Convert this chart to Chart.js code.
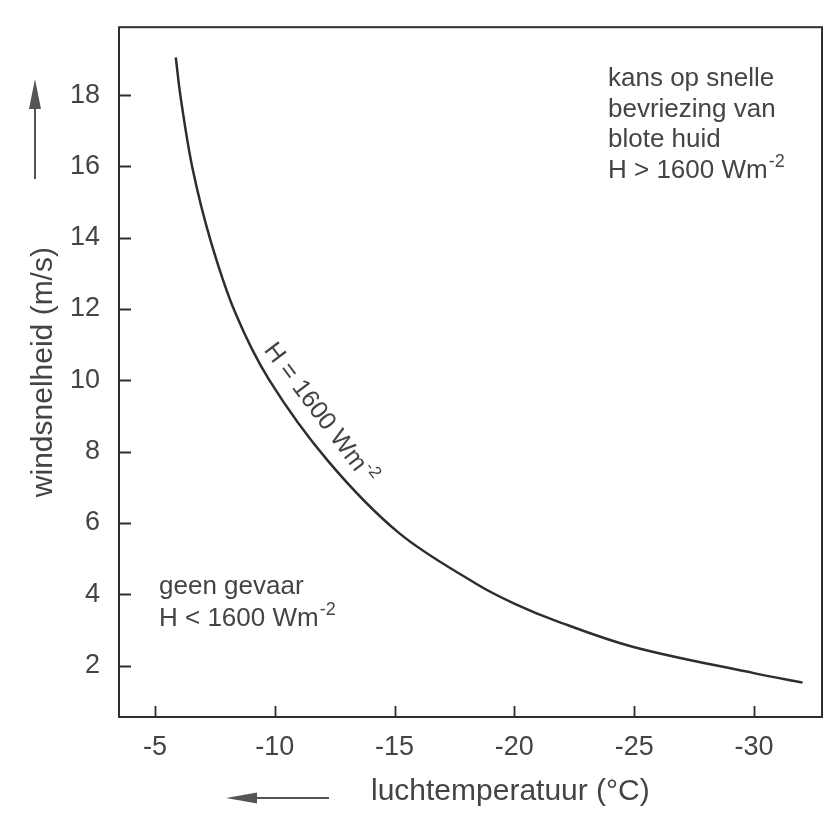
<!DOCTYPE html>
<html>
<head>
<meta charset="utf-8">
<script src="https://cdn.jsdelivr.net/npm/chart.js@4.4.1/dist/chart.umd.min.js"></script>
<style>
  html, body { margin: 0; padding: 0; background: #ffffff; }
  #wrap { width: 827px; height: 817px; position: relative; }
</style>
</head>
<body>
<div id="wrap"><canvas id="chart"></canvas></div>
<script>
// ---- data ----
const temperatures = [-5.87, -6.07, -6.57, -7.31, -8.35, -9.76, -12.22, -15.18, -18.44, -20.02, -21.71, -24.97, -30.04, -32.03];
const windSpeeds   = [19.06, 17.95, 15.94, 13.95, 11.90, 10.02, 7.74, 5.72, 4.28, 3.73, 3.26, 2.52, 1.78, 1.52];
const xTickValues = [-5, -10, -15, -20, -25, -30];
const yTickValues = [2, 4, 6, 8, 10, 12, 14, 16, 18];
const xTitle = 'luchtemperatuur (°C)';
const yTitle = 'windsnelheid (m/s)';
const dangerLines = ['kans op snelle', 'bevriezing van', 'blote huid'];
const dangerLast = ['H > 1600 Wm', '-2'];
const safeLine = 'geen gevaar';
const safeLast = ['H < 1600 Wm', '-2'];
const curveLabel = ['H = 1600 Wm', '-2'];
const curveLabelAt = { x: -11.95, y: 9.1 };

const FONT = '"Liberation Sans", Arial, Helvetica, sans-serif';
const TEXT = '#444444';
const INK = '#2e2e2e';

function supText(ctx, x, y, base, sup, size) {
  ctx.font = size + 'px ' + FONT;
  ctx.fillText(base, x, y);
  const w = ctx.measureText(base).width;
  ctx.font = Math.round(size * 0.68) + 'px ' + FONT;
  ctx.fillText(sup, x + w + 1, y - size * 0.42);
}
function supWidth(ctx, base, sup, size) {
  ctx.font = size + 'px ' + FONT;
  const w = ctx.measureText(base).width;
  ctx.font = Math.round(size * 0.68) + 'px ' + FONT;
  return w + 1 + ctx.measureText(sup).width;
}

const decor = {
  id: 'decor',
  afterDraw(chart) {
    const ctx = chart.ctx;
    const a = chart.chartArea;
    const xs = chart.scales.x, ys = chart.scales.y;
    ctx.save();
    // frame
    ctx.strokeStyle = INK;
    ctx.lineWidth = 2;
    ctx.strokeRect(a.left, a.top, a.right - a.left, a.bottom - a.top);
    // inward ticks
    ctx.lineWidth = 1.8;
    ctx.beginPath();
    ys.ticks.forEach(t => {
      const p = Math.round(ys.getPixelForValue(t.value)) + 0.5;
      ctx.moveTo(a.left, p); ctx.lineTo(a.left + 12, p);
    });
    xs.ticks.forEach(t => {
      const p = Math.round(xs.getPixelForValue(t.value)) + 0.5;
      ctx.moveTo(p, a.bottom); ctx.lineTo(p, a.bottom - 11);
    });
    ctx.stroke();

    // annotations
    ctx.fillStyle = TEXT;
    ctx.textAlign = 'left';
    ctx.textBaseline = 'alphabetic';
    const fs = 26;
    ctx.font = fs + 'px ' + FONT;
    dangerLines.forEach((s, i) => ctx.fillText(s, 608, 86 + i * 30.7));
    supText(ctx, 608, 178, dangerLast[0], dangerLast[1], fs);
    ctx.font = fs + 'px ' + FONT;
    ctx.fillText(safeLine, 159, 594);
    supText(ctx, 159, 626, safeLast[0], safeLast[1], fs);

    // label along the curve
    const cx = xs.getPixelForValue(curveLabelAt.x);
    const cy = ys.getPixelForValue(curveLabelAt.y);
    const lfs = 25;
    const lw = supWidth(ctx, curveLabel[0], curveLabel[1], lfs);
    ctx.save();
    ctx.translate(cx, cy);
    ctx.rotate(53 * Math.PI / 180);
    supText(ctx, -lw / 2, lfs * 0.36, curveLabel[0], curveLabel[1], lfs);
    ctx.restore();

    // x title
    ctx.font = '30px ' + FONT;
    ctx.fillStyle = TEXT;
    ctx.fillText(xTitle, 371, 800);

    // arrows
    ctx.strokeStyle = '#555555';
    ctx.fillStyle = '#555555';
    ctx.lineWidth = 2;
    ctx.beginPath();
    ctx.moveTo(35, 179); ctx.lineTo(35, 105); ctx.stroke();
    ctx.beginPath();
    ctx.moveTo(35, 79); ctx.lineTo(41, 109); ctx.lineTo(29, 109); ctx.closePath(); ctx.fill();
    ctx.beginPath();
    ctx.moveTo(329, 798); ctx.lineTo(250, 798); ctx.stroke();
    ctx.beginPath();
    ctx.moveTo(226, 798); ctx.lineTo(257, 792.5); ctx.lineTo(257, 803.5); ctx.closePath(); ctx.fill();
    ctx.restore();
  }
};

new Chart(document.getElementById('chart'), {
  type: 'scatter',
  data: {
    datasets: [{
      data: temperatures.map((t, i) => ({ x: t, y: windSpeeds[i] })),
      showLine: true,
      borderColor: INK,
      borderWidth: 2.5,
      pointRadius: 0,
      pointHoverRadius: 0,
      tension: 0.35,
      fill: false
    }]
  },
  options: {
    responsive: true,
    maintainAspectRatio: false,
    animation: false,
    events: [],
    layout: { padding: { top: 20, right: 5, left: 0, bottom: 0 } },
    plugins: { legend: { display: false }, tooltip: { enabled: false } },
    scales: {
      x: {
        type: 'linear',
        reverse: true,
        min: -32.84,
        max: -3.5,
        afterBuildTicks: s => { s.ticks = xTickValues.map(v => ({ value: v })); },
        afterFit: s => { s.height = 100; },
        grid: { display: false },
        border: { display: false },
        ticks: {
          color: TEXT,
          font: { family: FONT, size: 27 },
          padding: 6,
          autoSkip: false,
          maxRotation: 0,
          callback: v => String(v)
        }
      },
      y: {
        type: 'linear',
        min: 0.556,
        max: 19.906,
        afterBuildTicks: s => { s.ticks = yTickValues.map(v => ({ value: v })); },
        afterFit: s => { s.width = 119; },
        grid: { display: false },
        border: { display: false },
        title: {
          display: true,
          text: yTitle,
          color: TEXT,
          font: { family: FONT, size: 30 },
          padding: { top: 26, bottom: 0 }
        },
        ticks: {
          color: TEXT,
          font: { family: FONT, size: 27 },
          padding: 11,
          autoSkip: false,
          callback: v => String(v)
        }
      }
    }
  },
  plugins: [decor]
});
</script>
</body>
</html>
